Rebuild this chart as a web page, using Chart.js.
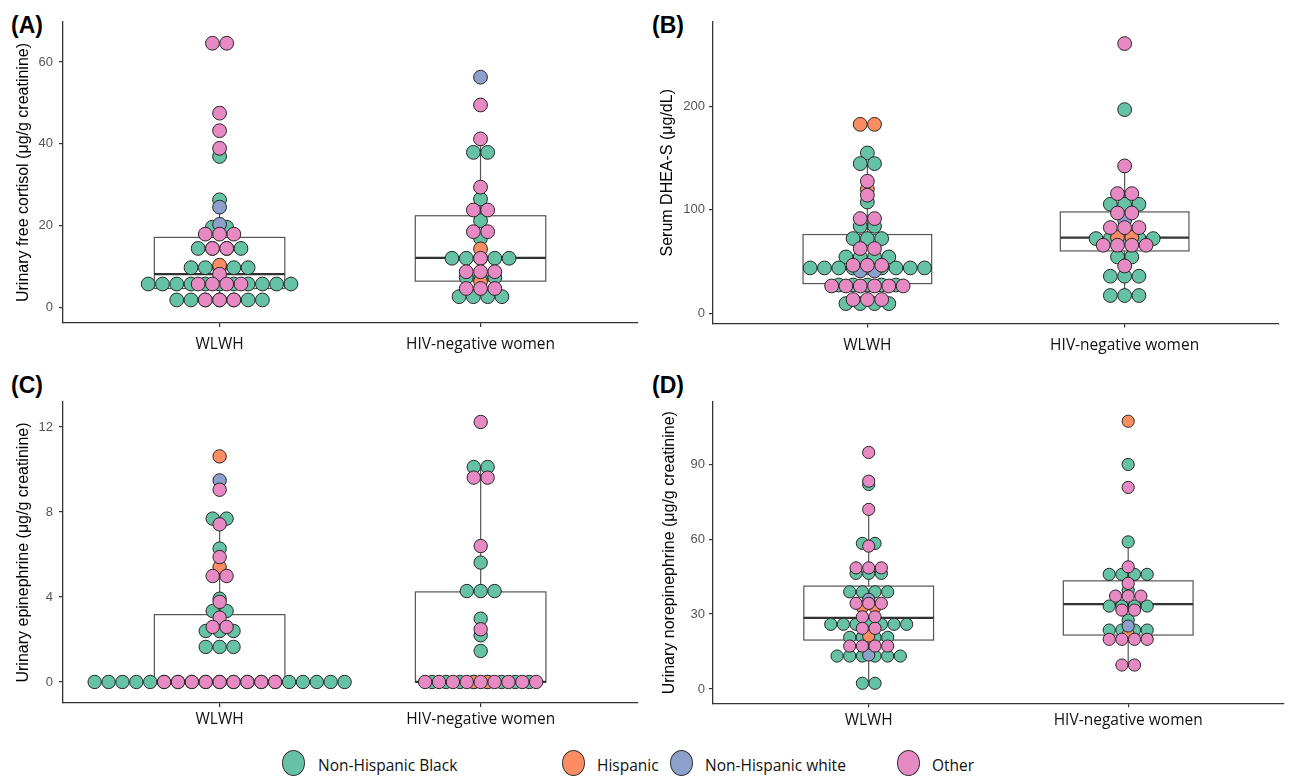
<!DOCTYPE html>
<html><head><meta charset="utf-8">
<script src="https://cdn.jsdelivr.net/npm/chart.js@4.4.1/dist/chart.umd.min.js"></script>
<style>
body{margin:0;background:#fff;width:1291px;height:776px;position:relative;overflow:hidden}
canvas{position:absolute}
.tag{position:absolute;font:bold 23px "Liberation Sans",Arial,sans-serif;color:#000;line-height:23px}
.ldot{position:absolute;width:23px;height:26px;border-radius:50%;border:1.5px solid #333;box-sizing:border-box}
.ltxt{position:absolute;font:15.5px "Open Sans",sans-serif;color:#111;line-height:20px}
</style></head><body>
<div class="tag" style="left:11px;top:14px">(A)</div>
<div class="tag" style="left:652px;top:14px">(B)</div>
<div class="tag" style="left:11px;top:374px">(C)</div>
<div class="tag" style="left:652px;top:374px">(D)</div>
<div id="legend"></div>
<script>
const categories = ['WLWH', 'HIV-negative women'];
const races = ['Non-Hispanic Black', 'Hispanic', 'Non-Hispanic white', 'Other'];
const raceColors = ['#66C2A5', '#FC8D62', '#8DA0CB', '#E78AC3'];

// Each group: one list per race (order as races), rows of [value, number of dots in that bin]
// (A) Urinary free cortisol
const cortisolWLWH = [
  [[36.9,1],[26.3,1],[19.6,2],[14.4,4],[9.7,5],[5.7,11],[1.8,7]],
  [[10.3,1]],
  [[24.5,1],[20.3,1]],
  [[64.6,2],[47.5,1],[43.2,1],[38.9,1],[17.9,3],[14.4,2],[8.1,1],[5.7,4],[1.8,3]]
];
const cortisolHIVneg = [
  [[37.9,2],[26.5,1],[21.2,1],[16.9,1],[12.0,5],[7.3,3],[2.6,4]],
  [[14.3,1],[6.3,1]],
  [[56.3,1]],
  [[49.5,1],[41.2,1],[29.4,1],[23.8,2],[18.5,2],[12.0,1],[8.7,3],[4.6,3]]
];
// box stats: [lower whisker, Q1, median, Q3, upper whisker]
const cortisolBox = [[1.8,4.6,8.1,17.1,26.3],[2.6,6.4,12.1,22.4,41.2]];
const cortisolTicks = [0,20,40,60];

// (B) Serum DHEA-S
const dheaWLWH = [
  [[154.9,1],[144.6,2],[107.6,1],[84.2,2],[72.3,3],[54.6,4],[44.0,9],[27.5,5],[9.6,4]],
  [[182.5,2],[119.9,1]],
  [[41.1,2]],
  [[127.6,1],[114.1,1],[91.6,2],[62.7,2],[46.6,3],[26.6,6],[13.5,3]]
];
const dheaHIVneg = [
  [[196.7,1],[105.4,3],[72.3,5],[54.6,2],[36.0,3],[17.4,3]],
  [[73.5,2]],
  [[90.0,1]],
  [[260.4,1],[142.4,1],[115.7,2],[97.0,2],[82.9,3],[65.9,4],[45.9,1]]
];
const dheaBox = [[9.6,28.9,44.0,76.2,144.6],[17.4,60.4,73.3,98.0,142.4]];
const dheaTicks = [0,100,200];

// (C) Urinary epinephrine
const epiWLWH = [
  [[7.69,2],[6.28,1],[3.92,1],[3.34,2],[2.40,3],[1.65,3],[0,19]],
  [[10.62,1],[5.41,1]],
  [[9.49,1]],
  [[9.05,1],[7.42,1],[5.88,1],[4.99,2],[3.77,1],[3.03,1],[2.59,2],[0,9]]
];
const epiHIVneg = [
  [[10.12,2],[5.62,1],[4.28,3],[2.98,1],[2.20,1],[1.46,1],[0,8]],
  [[0,2]],
  [],
  [[12.24,1],[9.62,2],[6.40,1],[2.48,1],[0,9]]
];
const epiBox = [[0,0,0,3.17,7.69],[0,0,0,4.24,10.12]];
const epiTicks = [0,4,8,12];

// (D) Urinary norepinephrine
const norepiWLWH = [
  [[81.9,1],[58.3,2],[46.3,3],[38.9,4],[25.9,7],[20.7,4],[13.2,6],[2.3,2]],
  [[32.7,2],[21.2,1]],
  [[35.9,1],[13.6,1]],
  [[94.7,1],[83.2,1],[71.9,1],[57.2,1],[48.5,3],[34.3,3],[28.9,2],[24.3,2],[17.2,4]]
];
const norepiHIVneg = [
  [[89.9,1],[58.9,1],[45.9,4],[39.6,1],[33.2,4],[27.6,1],[23.6,4]],
  [[107.2,1],[21.9,1]],
  [[25.2,1]],
  [[80.7,1],[48.9,1],[42.3,1],[37.2,3],[31.6,2],[19.9,4],[9.6,2]]
];
const norepiBox = [[2.3,19.6,28.5,41.2,71.9],[9.6,21.6,34.0,43.3,58.9]];
const norepiTicks = [0,30,60,90];

// ---- layout / style ----
const panels = [
  {wlwh:cortisolWLWH, hiv:cortisolHIVneg, box:cortisolBox, ticks:cortisolTicks,
   title:'Urinary free cortisol (\u03bcg/g creatinine)',
   x0:0, y0:0, w:645, h:385, left:63, right:638, top:22, bottom:323, yMin:-3.84, yMax:69.8,
   dot:14.3, r:6.9, xpad:8.7, ypad:6, tpad:14.2},
  {wlwh:dheaWLWH, hiv:dheaHIVneg, box:dheaBox, ticks:dheaTicks,
   title:'Serum DHEA-S (\u03bcg/dL)',
   x0:645, y0:0, w:646, h:385, left:713, right:1279, top:22, bottom:323.5, yMin:-9.6, yMax:281.2,
   dot:14.3, r:6.9, xpad:8.7, ypad:4, tpad:13.2},
  {wlwh:epiWLWH, hiv:epiHIVneg, box:epiBox, ticks:epiTicks,
   title:'Urinary epinephrine (\u03bcg/g creatinine)',
   x0:0, y0:385, w:645, h:355, left:63, right:638, top:402, bottom:703, yMin:-0.99, yMax:13.18,
   dot:13.9, r:6.7, xpad:3.7, ypad:6, tpad:14.2},
  {wlwh:norepiWLWH, hiv:norepiHIVneg, box:norepiBox, ticks:norepiTicks,
   title:'Urinary norepinephrine (\u03bcg/g creatinine)',
   x0:645, y0:385, w:646, h:355, left:713, right:1286, top:402, bottom:703.3, yMin:-5.72, yMax:114.9,
   dot:12.7, r:6.1, xpad:3.7, ypad:4, tpad:15.2}
];

function swarm(rows, cat, unit) {
  const pts = [];
  rows.forEach(([v, n]) => {
    for (let k = 0; k < n; k++) pts.push({x: cat + (k - (n - 1) / 2) * unit, y: v});
  });
  return pts;
}

function boxPlugin(stats) {
  return {
    id: 'boxes',
    beforeDatasetsDraw(chart) {
      const {ctx, scales: {x, y}} = chart;
      stats.forEach((s, i) => {
        const cx = x.getPixelForValue(i + 1);
        const half = x.getPixelForValue(i + 1.25) - cx;
        const [lo, q1, med, q3, hi] = s.map(v => y.getPixelForValue(v));
        ctx.save();
        ctx.strokeStyle = '#555';
        ctx.lineWidth = 1.2;
        ctx.beginPath();
        ctx.moveTo(cx, q3); ctx.lineTo(cx, hi);
        ctx.moveTo(cx, q1); ctx.lineTo(cx, lo);
        ctx.stroke();
        ctx.strokeRect(cx - half, q3, 2 * half, q1 - q3);
        ctx.strokeStyle = '#333';
        ctx.lineWidth = 2.2;
        ctx.beginPath();
        ctx.moveTo(cx - half, med); ctx.lineTo(cx + half, med);
        ctx.stroke();
        ctx.restore();
      });
    }
  };
}

function makeChart(p) {
  const c = document.createElement('canvas');
  c.width = p.w; c.height = p.h;
  c.style.left = p.x0 + 'px'; c.style.top = p.y0 + 'px';
  c.style.width = p.w + 'px'; c.style.height = p.h + 'px';
  document.body.appendChild(c);
  const unit = p.dot / ((p.right - p.left) / 2.2);
  const datasets = races.map((r, i) => ({
    label: r,
    data: swarm(p.wlwh[i], 1, unit).concat(swarm(p.hiv[i], 2, unit)),
    backgroundColor: raceColors[i],
    borderColor: '#262626',
    borderWidth: 1,
    pointRadius: p.r,
    pointHoverRadius: p.r,
    order: 3 - i
  }));
  const axisGrid = {display: true, drawOnChartArea: false, drawTicks: true, tickLength: 4, color: '#333', lineWidth: 1.2};
  const axisBorder = {display: true, color: '#333', width: 1.3};
  new Chart(c, {
    type: 'scatter',
    data: {datasets},
    options: {
      responsive: false, animation: false, events: [],
      layout: {padding: {left: 0, top: p.top - p.y0, right: p.x0 + p.w - p.right, bottom: 0}},
      plugins: {legend: {display: false}, tooltip: {enabled: false}},
      scales: {
        x: {
          type: 'linear', min: 0.4, max: 2.6,
          afterBuildTicks: s => { s.ticks = [{value: 1}, {value: 2}]; },
          afterFit: s => { s.height = p.y0 + p.h - p.bottom; },
          ticks: {callback: v => categories[v - 1], font: {family: 'Open Sans', size: 15.5}, color: '#111',
                  padding: p.xpad, maxRotation: 0, autoSkip: false},
          grid: axisGrid, border: axisBorder
        },
        y: {
          type: 'linear', min: p.yMin, max: p.yMax,
          afterBuildTicks: s => { s.ticks = p.ticks.map(v => ({value: v})); },
          afterFit: s => { s.width = p.left - p.x0; },
          ticks: {font: {family: 'Liberation Sans', size: 13}, color: '#555', padding: p.ypad},
          grid: axisGrid, border: axisBorder,
          title: {display: true, text: p.title, font: {family: 'Liberation Sans', size: 16}, color: '#000',
                  padding: {top: p.tpad, bottom: 0}}
        }
      }
    },
    plugins: [boxPlugin(p.box)]
  });
}
panels.forEach(makeChart);

// legend (HTML)
const legendDotX = [293, 573, 681, 908];
const legendTextX = [318, 597, 705, 932];
const lg = document.getElementById('legend');
races.forEach((r, i) => {
  const d = document.createElement('div');
  d.className = 'ldot';
  d.style.left = (legendDotX[i] - 11.5) + 'px'; d.style.top = (763 - 13) + 'px';
  d.style.background = raceColors[i];
  lg.appendChild(d);
  const t = document.createElement('div');
  t.className = 'ltxt';
  t.style.left = legendTextX[i] + 'px'; t.style.top = (765 - 10) + 'px';
  t.textContent = r;
  lg.appendChild(t);
});
</script>
</body></html>
